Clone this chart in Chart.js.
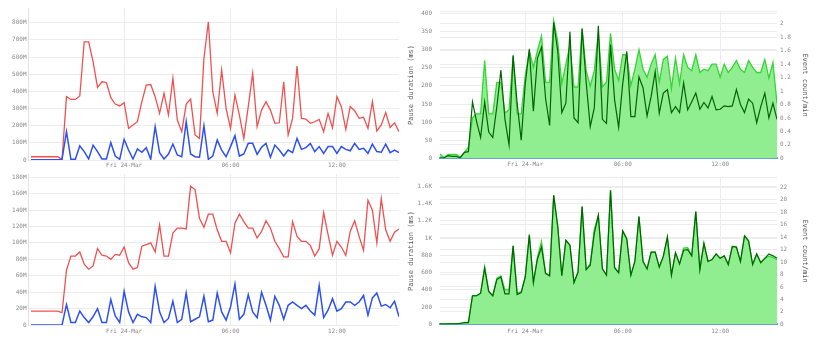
<!DOCTYPE html>
<html>
<head>
<meta charset="utf-8">
<script src="https://cdn.jsdelivr.net/npm/chart.js@4.4.0/dist/chart.umd.min.js"></script>
<style>
  body { margin: 0; background: #fff; width: 817px; height: 338px; position: relative; overflow: hidden; }
  canvas { position: absolute; }
</style>
</head>
<body>
<canvas id="memTop" width="400" height="170" style="left:0;top:0"></canvas>
<canvas id="memBottom" width="400" height="170" style="left:0;top:166px"></canvas>
<canvas id="pauseTop" width="417" height="170" style="left:400px;top:0"></canvas>
<canvas id="pauseBottom" width="417" height="170" style="left:400px;top:166px"></canvas>
<script>
// samples every 15 minutes, hours relative to Fri 24-Mar 00:00
const firstHour = -5.25;
const stepHours = 0.25;
const lastHour = 15.5;

const tickHours = [0, 6, 12];
const tickLabels = ['Fri 24-Mar', '06:00', '12:00'];

// top left (M)
const topLeftRed = [19, 19, 19, 19, 19, 19, 19, 4, 369, 353, 353, 373, 689, 689, 573, 423, 456, 452, 363, 326,
  315, 334, 184, 204, 223, 340, 437, 440, 369, 272, 388, 262, 476, 233, 165, 326, 355, 146, 126, 592,
  806, 398, 272, 524, 301, 184, 379, 262, 126, 311, 505, 194, 291, 340, 291, 214, 217, 456, 146, 243,
  548, 243, 239, 214, 223, 237, 165, 272, 188, 369, 311, 179, 311, 287, 243, 249, 184, 340, 169, 204,
  276, 190, 217, 165];
const topLeftBlue = [2, 2, 2, 2, 2, 2, 2, 4, 165, 4, 4, 83, 49, 6, 87, 49, 6, 6, 101, 23,
  4, 120, 58, 6, 64, 45, 72, 4, 194, 43, 6, 35, 93, 29, 19, 223, 35, 19, 16, 200,
  4, 23, 117, 58, 19, 78, 142, 23, 35, 97, 97, 33, 74, 97, 16, 87, 58, 23, 58, 43,
  126, 62, 72, 97, 49, 78, 39, 78, 78, 39, 78, 62, 54, 97, 62, 68, 39, 93, 49, 45,
  93, 43, 58, 43];

// bottom left (M)
const bottomLeftRed = [17, 17, 17, 17, 17, 17, 17, 15, 67, 84, 84, 89, 74, 68, 72, 93, 85, 84, 80, 86,
  85, 95, 76, 68, 70, 96, 98, 100, 89, 122, 84, 84, 112, 118, 118, 117, 169, 165, 130, 119,
  135, 135, 116, 102, 102, 88, 124, 135, 126, 118, 118, 106, 114, 127, 118, 102, 93, 83, 83, 126,
  108, 102, 102, 97, 84, 93, 137, 110, 85, 102, 95, 85, 114, 127, 108, 91, 152, 140, 100, 154,
  116, 102, 113, 117];
const bottomLeftBlue = [0, 0, 0, 0, 0, 0, 0, 0, 25, 3, 3, 17, 9, 3, 10, 20, 3, 3, 31, 11,
  3, 41, 16, 3, 13, 10, 9, 3, 47, 16, 3, 8, 29, 3, 7, 39, 4, 7, 10, 35,
  4, 6, 39, 16, 6, 22, 50, 7, 13, 37, 16, 9, 40, 24, 6, 35, 24, 7, 24, 28,
  24, 20, 24, 17, 12, 48, 9, 18, 32, 17, 20, 28, 28, 24, 28, 36, 12, 33, 39, 23,
  25, 21, 29, 10];

// top right: pause duration (ms) and event count/min
const pauseTop = [12, 2, 11, 11, 11, 4, 16, 31, 112, 123, 123, 270, 123, 123, 210, 210, 125, 134, 282, 123,
  123, 228, 297, 251, 297, 338, 210, 210, 380, 322, 206, 260, 313, 197, 197, 358, 242, 199, 242, 345,
  197, 210, 345, 246, 215, 286, 286, 201, 246, 300, 246, 224, 260, 286, 210, 273, 282, 192, 277, 206,
  286, 251, 242, 286, 237, 246, 242, 260, 260, 224, 260, 237, 251, 270, 246, 237, 270, 251, 237, 237,
  273, 222, 264, 152];
const eventsTop = [0.01, 0.01, 0.04, 0.03, 0.03, 0.01, 0.09, 0.1, 0.84, 0.55, 0.31, 0.84, 0.39, 0.31, 0.77, 1.31, 0.58, 0.2, 1.53, 0.82,
  0.27, 1.11, 1.62, 0.7, 1.49, 1.65, 0.89, 0.49, 2.02, 1.59, 0.68, 0.82, 1.88, 0.6, 0.53, 1.93, 1.13, 0.47, 0.75, 1.97,
  0.58, 0.52, 1.69, 0.87, 0.46, 1.11, 1.59, 0.62, 0.62, 1.21, 1.05, 0.63, 0.92, 1.29, 0.67, 0.97, 1.02, 0.68, 0.77, 0.68,
  1.12, 0.72, 0.84, 0.97, 0.73, 0.83, 0.75, 0.92, 0.72, 0.73, 0.78, 0.77, 0.78, 1.02, 0.8, 0.68, 0.88, 0.82, 0.53, 0.77,
  0.97, 0.6, 0.82, 0.58];

// bottom right: pause duration (ms) and event count/min
const pauseBottom = [7, 4, 7, 7, 7, 11, 22, 22, 332, 332, 361, 670, 383, 332, 535, 560, 400, 400, 910, 360,
  380, 549, 1045, 484, 780, 960, 592, 563, 1495, 1134, 563, 975, 917, 484, 606, 1365, 635, 700, 1100, 1264,
  643, 570, 1552, 657, 599, 1083, 989, 570, 729, 1249, 729, 643, 838, 838, 664, 787, 1011, 570, 830, 700,
  885, 890, 794, 1307, 635, 939, 729, 751, 816, 765, 794, 693, 903, 895, 729, 1025, 967, 693, 816, 715,
  765, 790, 775, 750];
const eventsBottom = [0.1, 0.05, 0.1, 0.1, 0.1, 0.15, 0.3, 0.3, 4.6, 4.6, 5.0, 9.0, 5.3, 4.6, 7.2, 7.6, 4.9, 4.9, 12.6, 4.8,
  5.1, 7.6, 14.3, 6.7, 10.5, 12.4, 8.2, 7.8, 20.7, 15.7, 7.8, 13.5, 12.7, 6.7, 8.4, 18.9, 8.8, 9.5, 14.6, 17.5,
  8.9, 7.9, 21.5, 9.1, 8.3, 15.0, 13.7, 7.9, 10.1, 17.3, 10.1, 8.9, 11.6, 11.6, 9.2, 10.9, 14.0, 7.9, 11.5, 9.7,
  11.9, 12.0, 11.0, 18.1, 8.8, 13.0, 10.1, 10.4, 11.3, 10.6, 11.0, 9.6, 12.5, 12.4, 10.1, 14.2, 13.4, 9.6, 11.3, 9.9,
  10.6, 11.3, 11.0, 10.6];

const tickFont = { family: 'DejaVu Sans Mono', size: 6 };
const titleFont = { family: 'DejaVu Sans Mono', size: 7 };
const tickColor = '#8a8a8a';
const gridColor = '#ececec';

function points(values) {
  return values.map((v, i) => ({ x: firstHour + i * stepHours, y: v }));
}

function timeAxis(minHour, axisHeight, pad, border) {
  return {
    type: 'linear',
    min: minHour,
    max: lastHour,
    afterBuildTicks: s => { s.ticks = tickHours.map(v => ({ value: v })); },
    afterFit: s => { s.height = axisHeight; },
    ticks: {
      autoSkip: false, maxRotation: 0, padding: pad,
      font: tickFont, color: tickColor,
      callback: (v, i) => tickLabels[i]
    },
    grid: { color: gridColor, drawTicks: false },
    border: border
  };
}

function valueAxis(opts) {
  return {
    position: opts.position || 'left',
    min: 0,
    max: opts.max,
    afterFit: s => { s.width = opts.width; },
    ticks: {
      stepSize: opts.step,
      includeBounds: opts.bounds,
      padding: opts.pad,
      font: tickFont, color: tickColor,
      callback: opts.label
    },
    title: opts.title ? {
      display: true, text: opts.title, font: titleFont, color: '#555',
      padding: { top: opts.titlePad, bottom: 0 }
    } : { display: false },
    grid: { color: gridColor, drawTicks: false },
    border: { display: opts.border || false, color: '#e2e2e2' }
  };
}

const baseOptions = {
  responsive: false,
  animation: false,
  elements: { point: { radius: 0 }, line: { tension: 0 } },
  plugins: { legend: { display: false }, tooltip: { enabled: false } }
};

function memChart(id, red, blue, max, step, padTop, xHeight, xPad) {
  new Chart(document.getElementById(id), {
    type: 'line',
    data: {
      datasets: [
        { data: points(blue), borderColor: 'rgb(45, 80, 245)', borderWidth: 1.5 },
        { data: points(red), borderColor: 'rgb(242, 80, 80)', borderWidth: 1.3 }
      ]
    },
    options: {
      ...baseOptions,
      layout: { padding: { top: padTop, right: 1, left: 0, bottom: 0 } },
      scales: {
        x: timeAxis(-5.42, xHeight, xPad, { display: false }),
        y: valueAxis({
          max: max, step: step, bounds: false, width: 28, pad: 1.5, border: true,
          label: v => v === 0 ? '0' : v + 'M'
        })
      }
    }
  });
}

function pauseChart(id, pause, events, cfg) {
  new Chart(document.getElementById(id), {
    type: 'line',
    data: {
      datasets: [
        { data: points(events), yAxisID: 'y2', borderColor: 'rgb(0, 100, 0)', borderWidth: 1.2, fill: false },
        { data: points(pause), yAxisID: 'y', borderColor: 'rgb(50, 215, 50)', borderWidth: 1.3,
          backgroundColor: 'rgb(144, 238, 144)', fill: 'origin' }
      ]
    },
    options: {
      ...baseOptions,
      layout: { padding: { top: cfg.padTop, right: 0, left: 0, bottom: 0 } },
      scales: {
        x: timeAxis(firstHour, cfg.xHeight, cfg.xPad, { display: true, color: 'rgb(100, 149, 237)', width: 2 }),
        y: valueAxis({
          max: cfg.pauseMax, step: cfg.pauseStep, bounds: false, width: 40, pad: 8,
          title: 'Pause duration (ms)', titlePad: 7, label: cfg.pauseLabel
        }),
        // the right axis keeps its top bound so the frame line is drawn
        y2: valueAxis({
          position: 'right', max: cfg.eventMax, step: cfg.eventStep, bounds: true, width: 40, pad: 3,
          title: 'Event count/min', titlePad: 8, label: cfg.eventLabel
        })
      }
    }
  });
}

memChart('memTop', topLeftRed, topLeftBlue, 886, 100, 8, 10, 2);
memChart('memBottom', bottomLeftRed, bottomLeftBlue, 184, 20, 8, 11, 3);

pauseChart('pauseTop', pauseTop, eventsTop, {
  padTop: 9, xHeight: 10, xPad: 2,
  pauseMax: 405, pauseStep: 50,
  pauseLabel: v => String(v),
  eventMax: 2.18, eventStep: 0.2,
  eventLabel: v => Math.abs(v * 5 - Math.round(v * 5)) < 1e-6 ? String(+v.toFixed(1)) : ''
});
pauseChart('pauseBottom', pauseBottom, eventsBottom, {
  padTop: 7, xHeight: 11, xPad: 3,
  pauseMax: 1701, pauseStep: 200,
  pauseLabel: v => v >= 1000 ? (v / 1000) + 'K' : String(v),
  eventMax: 23.55, eventStep: 2,
  eventLabel: v => v % 2 === 0 ? String(v) : ''
});
</script>
</body>
</html>
